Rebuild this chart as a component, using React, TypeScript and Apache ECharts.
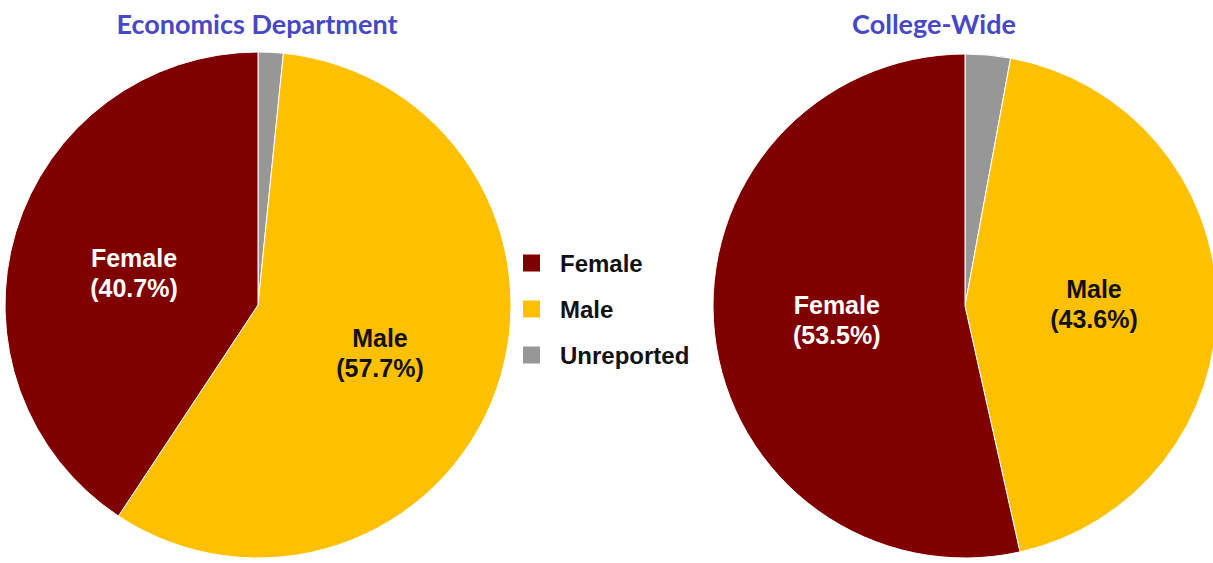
import React, { useEffect, useRef } from "react";
import * as echarts from "echarts";

const categories = ["Unreported", "Male", "Female"];
const economicsValues = [1.6, 57.7, 40.7];
const collegeValues = [2.9, 43.6, 53.5];
const titles = ["Economics Department", "College-Wide"];
const legendOrder = ["Female", "Male", "Unreported"];
const colorMap: Record<string, string> = {
  Female: "#800000",
  Male: "#FFC000",
  Unreported: "#979797",
};
const labelColor: Record<string, string> = {
  Female: "#ffffff",
  Male: "#111111",
  Unreported: "#111111",
};

function buildData(values: number[]) {
  return categories.map((name, i) => ({
    name,
    value: values[i],
    itemStyle: { color: colorMap[name] },
    label: {
      show: name !== "Unreported",
      color: labelColor[name],
    },
  }));
}

export default function App() {
  const ref = useRef<HTMLDivElement>(null);
  useEffect(() => {
    if (!ref.current) return;
    const chart = echarts.init(ref.current, null, { renderer: "svg" });
    const labelFont = {
      fontFamily: "'Liberation Sans', Arial, sans-serif",
      fontWeight: "bold" as const,
      fontSize: 25,
      lineHeight: 30,
    };
    const pieBase = {
      type: "pie" as const,
      startAngle: 90,
      clockwise: true,
      avoidLabelOverlap: false,
      silent: true,
      itemStyle: { borderColor: "#ffffff", borderWidth: 1 },
      label: {
        position: "inside" as const,
        formatter: (p: any) => `${p.name}\n(${p.value.toFixed(1)}%)`,
        ...labelFont,
      },
      labelLine: { show: false },
      emphasis: { disabled: true },
    };
    chart.setOption({
      animation: false,
      backgroundColor: "#ffffff",
      legend: {
        orient: "vertical",
        left: 516,
        top: 246,
        data: legendOrder,
        icon: "rect",
        itemWidth: 19,
        itemHeight: 19,
        itemGap: 22,
        selectedMode: false,
        textStyle: {
          ...labelFont,
          fontSize: 24,
          lineHeight: 24,
          color: "#111111",
          padding: [0, 0, 0, 14],
        },
      },
      graphic: [
        {
          type: "text",
          x: 257,
          y: 23,
          style: {
            text: titles[0],
            fill: "#4848c6",
            font: "bold 27px Lato, 'Open Sans', sans-serif",
            textAlign: "center",
            textVerticalAlign: "middle",
          },
        },
        {
          type: "text",
          x: 934,
          y: 23,
          style: {
            text: titles[1],
            fill: "#4848c6",
            font: "bold 27px Lato, 'Open Sans', sans-serif",
            textAlign: "center",
            textVerticalAlign: "middle",
          },
        },
      ],
      series: [
        {
          ...pieBase,
          name: titles[0],
          center: [258, 305],
          radius: 253,
          label: { ...pieBase.label, offset: [0, 5] },
          data: buildData(economicsValues),
        },
        {
          ...pieBase,
          name: titles[1],
          center: [965, 306],
          radius: 252,
          data: buildData(collegeValues),
        },
      ],
    });
    return () => chart.dispose();
  }, []);
  return (
    <div
      ref={ref}
      style={{ position: "fixed", left: 0, top: 0, width: 1213, height: 563 }}
    />
  );
}
